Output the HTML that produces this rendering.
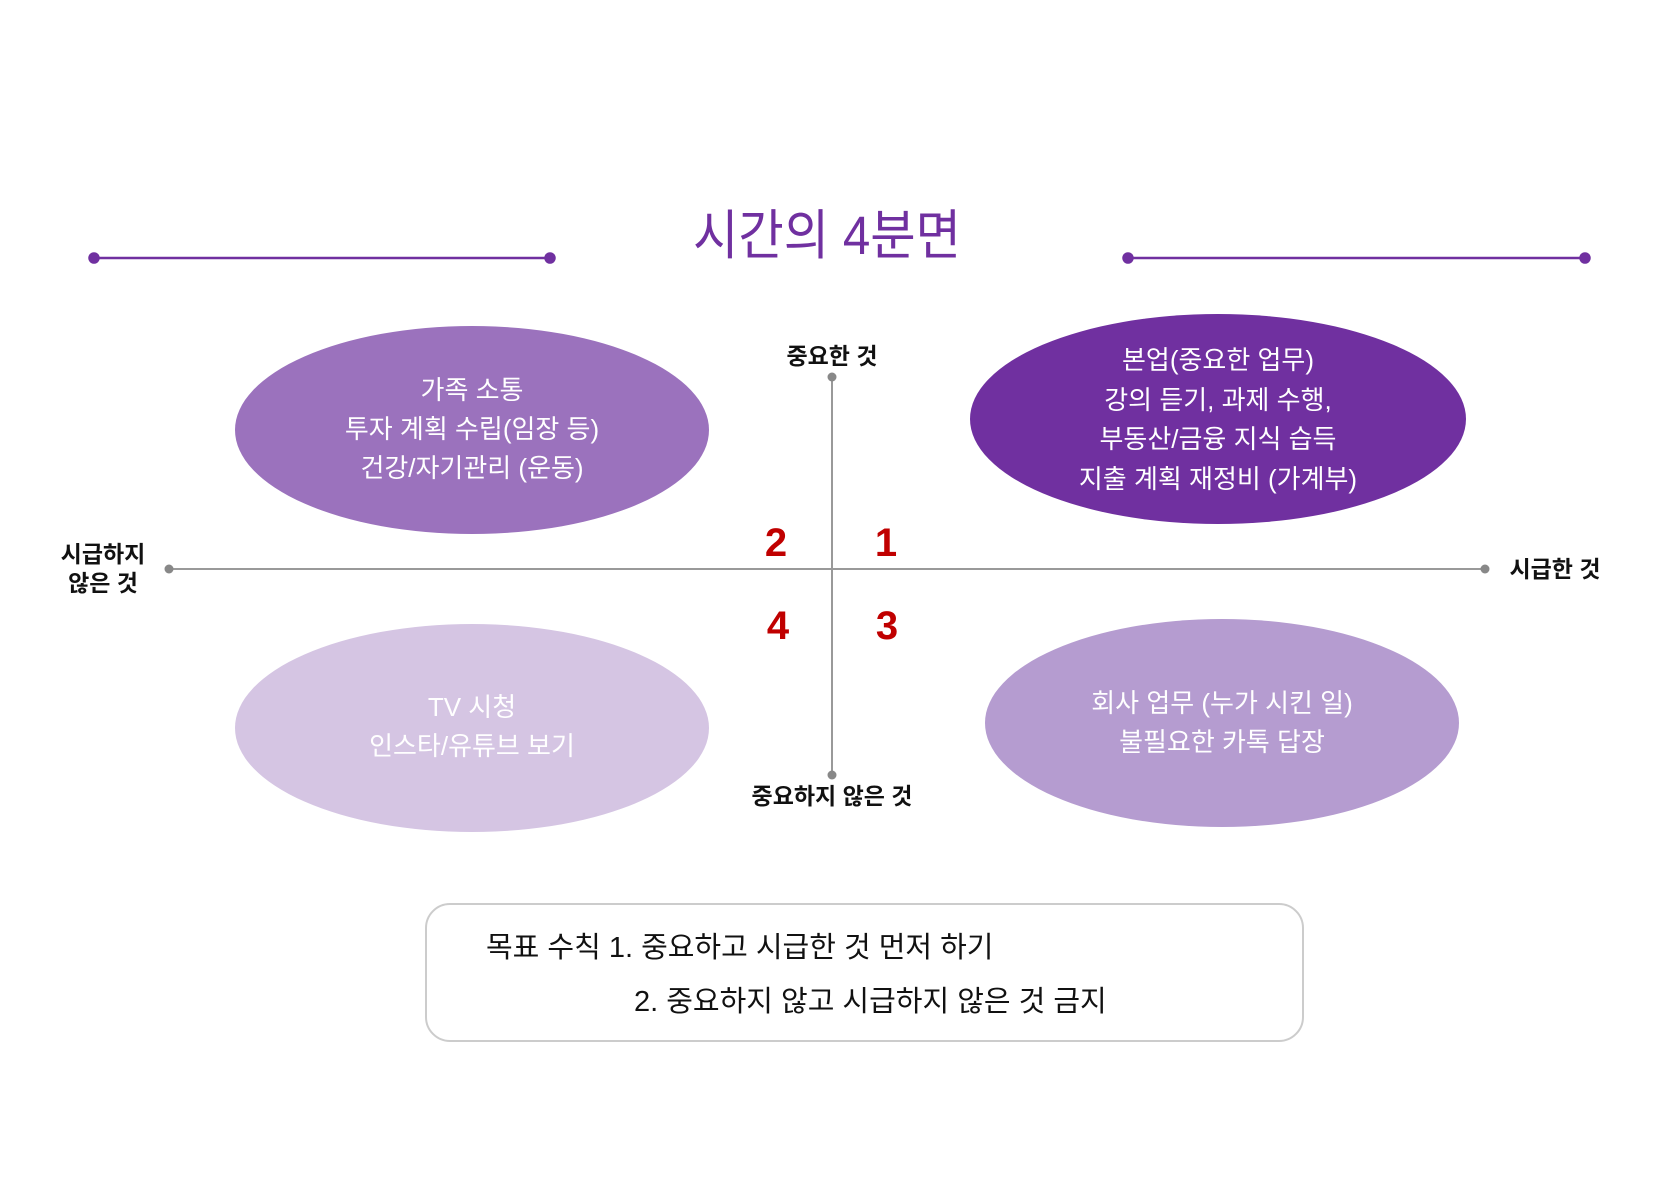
<!DOCTYPE html>
<html><head><meta charset="utf-8"><style>
body{margin:0;width:1667px;height:1179px;background:#fff;overflow:hidden}
svg text{font-family:"Liberation Sans","Noto Sans CJK KR",sans-serif}
</style></head><body>
<svg width="1667" height="1179" viewBox="0 0 1667 1179">
<g transform="translate(-4,0)">
<text x="831" y="254" text-anchor="middle" font-size="54" fill="#7030a0" textLength="268" lengthAdjust="spacingAndGlyphs">시간의 4분면</text>
<g stroke="#7030a0" stroke-width="2.5" fill="#7030a0">
<line x1="98" y1="258" x2="554" y2="258"/><circle cx="98" cy="258" r="4.5"/><circle cx="554" cy="258" r="4.5"/>
<line x1="1132" y1="258" x2="1589" y2="258"/><circle cx="1132" cy="258" r="4.5"/><circle cx="1589" cy="258" r="4.5"/>
</g>
<ellipse cx="476" cy="430" rx="237" ry="104" fill="#9b72bd"/>
<ellipse cx="1222" cy="419" rx="248" ry="105" fill="#7030a0"/>
<ellipse cx="476" cy="728" rx="237" ry="104" fill="#d5c5e3"/>
<ellipse cx="1226" cy="723" rx="237" ry="104" fill="#b59cd0"/>
<g stroke="#999" stroke-width="2" fill="#888">
<line x1="836" y1="377" x2="836" y2="775"/><line x1="173" y1="569" x2="1489" y2="569"/>
<circle cx="836" cy="377" r="4.5" stroke="none"/><circle cx="836" cy="775" r="4.5" stroke="none"/>
<circle cx="173" cy="569" r="4.5" stroke="none"/><circle cx="1489" cy="569" r="4.5" stroke="none"/>
</g>
<g fill="#fff" font-size="26" text-anchor="middle">
<text x="476" y="399">가족 소통</text><text x="476" y="438">투자 계획 수립(임장 등)</text><text x="476" y="477">건강/자기관리 (운동)</text>
<text x="1222" y="369">본업(중요한 업무)</text><text x="1222" y="409">강의 듣기, 과제 수행,</text><text x="1222" y="448">부동산/금융 지식 습득</text><text x="1222" y="488">지출 계획 재정비 (가계부)</text>
<text x="476" y="716">TV 시청</text><text x="476" y="755">인스타/유튜브 보기</text>
<text x="1226" y="712">회사 업무 (누가 시킨 일)</text><text x="1226" y="751">불필요한 카톡 답장</text>
</g>
<g font-size="23" font-weight="bold" fill="#111" text-anchor="middle">
<text x="836" y="364">중요한 것</text><text x="836" y="804">중요하지 않은 것</text>
<text x="1559" y="577">시급한 것</text><text x="107" y="562">시급하지</text><text x="107" y="591">않은 것</text>
</g>
<g font-size="40" font-weight="bold" fill="#c00000" text-anchor="middle">
<text x="780" y="556">2</text><text x="890" y="556">1</text><text x="782" y="639">4</text><text x="891" y="639">3</text>
</g>
<rect x="430" y="904" width="877" height="137" rx="24" fill="#fff" stroke="#ccc" stroke-width="2"/>
<g font-size="29" fill="#111">
<text x="490" y="957">목표 수칙 1. 중요하고 시급한 것 먼저 하기</text>
<text x="638" y="1011">2. 중요하지 않고 시급하지 않은 것 금지</text>
</g>
</g>
</svg>
</body></html>
